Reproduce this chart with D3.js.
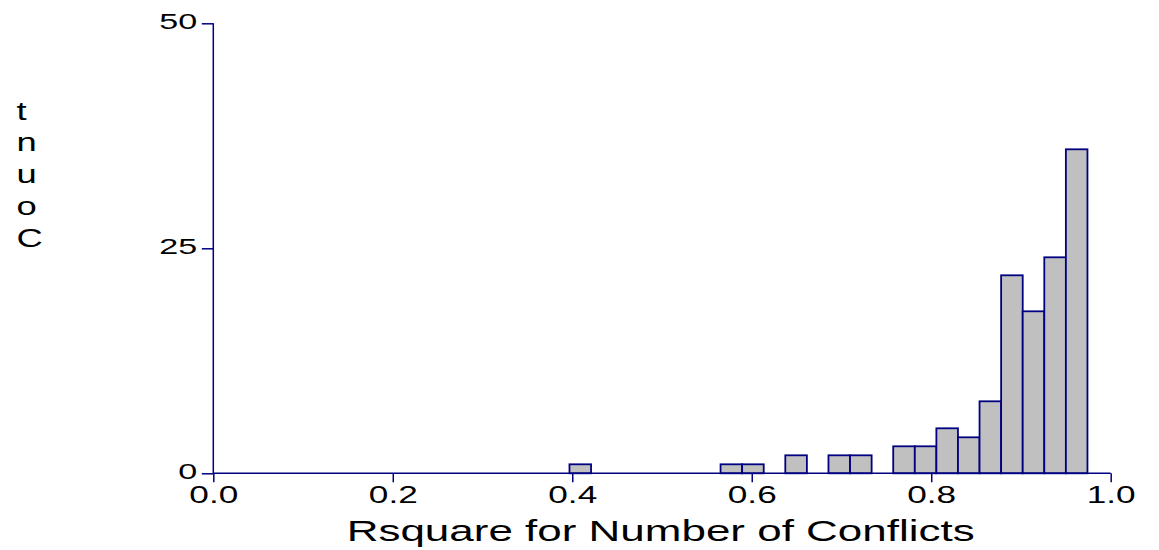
<!DOCTYPE html>
<html>
<head>
<meta charset="utf-8">
<script src="https://cdn.jsdelivr.net/npm/d3@7"></script>
<style>
  html, body { margin: 0; padding: 0; background: #fff; }
  text { font-family: "Liberation Sans", Arial, sans-serif; fill: #000; }
</style>
</head>
<body>
<svg id="chart" width="1159" height="550"></svg>
<script>
// ---- data ----
const binStart = 0.3969;
const binWidth = 0.02405;
const counts = [1, 0, 0, 0, 0, 0, 0, 1, 1, 0, 2, 0, 2, 2, 0, 3, 3, 5, 4, 8, 22, 18, 24, 36];
const xTicks = [0.0, 0.2, 0.4, 0.6, 0.8, 1.0];
const yTicks = [0, 25, 50];
const xTitle = "Rsquare for Number of Conflicts";
const yTitle = "Count";

// ---- layout ----
(function () {
const svg = d3.select("#chart");
const mLeft = 213.3, mRight = 1110.7, mTop = 23.3, mBottom = 473.3;
const navy = "#000080";

const x = d3.scaleLinear().domain([0, 1]).range([mLeft, mRight]);
const y = d3.scaleLinear().domain([0, 50]).range([mBottom, mTop]);

const bins = counts.map((c, i) => ({ x0: binStart + i * binWidth, x1: binStart + (i + 1) * binWidth, c }));

// bars
svg.append("g").selectAll("rect").data(bins).join("rect")
  .attr("x", d => x(d.x0))
  .attr("y", d => y(d.c))
  .attr("width", d => x(d.x1) - x(d.x0))
  .attr("height", d => y(0) - y(d.c))
  .attr("fill", "#c0c0c0")
  .attr("stroke", navy)
  .attr("stroke-width", 1.8);

// x axis
const xAxis = d3.axisBottom(x).tickValues(xTicks).tickSize(9).tickFormat(d3.format(".1f"));
const gx = svg.append("g").attr("transform", `translate(0,${mBottom})`).call(xAxis);
gx.select(".domain").attr("stroke", navy).attr("stroke-width", 1.5).attr("d", `M${mLeft},0H${mRight}`);
gx.selectAll(".tick line").attr("stroke", navy).attr("stroke-width", 1.5);
gx.selectAll(".tick text")
  .attr("y", 0).attr("dy", null)
  .style("font-size", "23px")
  .attr("transform", "translate(0,30) scale(1.53,1)")
  .attr("text-anchor", "middle")
  .attr("fill", "#000");

// y axis
const yAxis = d3.axisLeft(y).tickValues(yTicks).tickSize(11.5).tickFormat(d3.format("d"));
const gy = svg.append("g").attr("transform", `translate(${mLeft},0)`).call(yAxis);
gy.select(".domain").attr("stroke", navy).attr("stroke-width", 1.5).attr("d", `M0,${mTop}V${mBottom}`);
gy.selectAll(".tick line").attr("stroke", navy).attr("stroke-width", 1.5);
gy.selectAll(".tick text")
  .attr("x", 0).attr("dy", null)
  .style("font-size", "22px")
  .attr("transform", "translate(-16,5.5) scale(1.55,1)")
  .attr("text-anchor", "end")
  .attr("fill", "#000");

// x title
svg.append("text")
  .attr("x", 346.7).attr("y", 540.5)
  .style("font-size", "29px")
  .attr("textLength", 628)
  .attr("lengthAdjust", "spacingAndGlyphs")
  .text(xTitle);

// y title: letters stacked, reversed
const letters = yTitle.split("").reverse();
svg.append("g").selectAll("text").data(letters).join("text")
  .attr("transform", (d, i) => `translate(16.5,${119.5 + i * 31.8}) scale(1.4,1)`)
  .style("font-size", "26px")
  .text(d => d);
})();
</script>
</body>
</html>
